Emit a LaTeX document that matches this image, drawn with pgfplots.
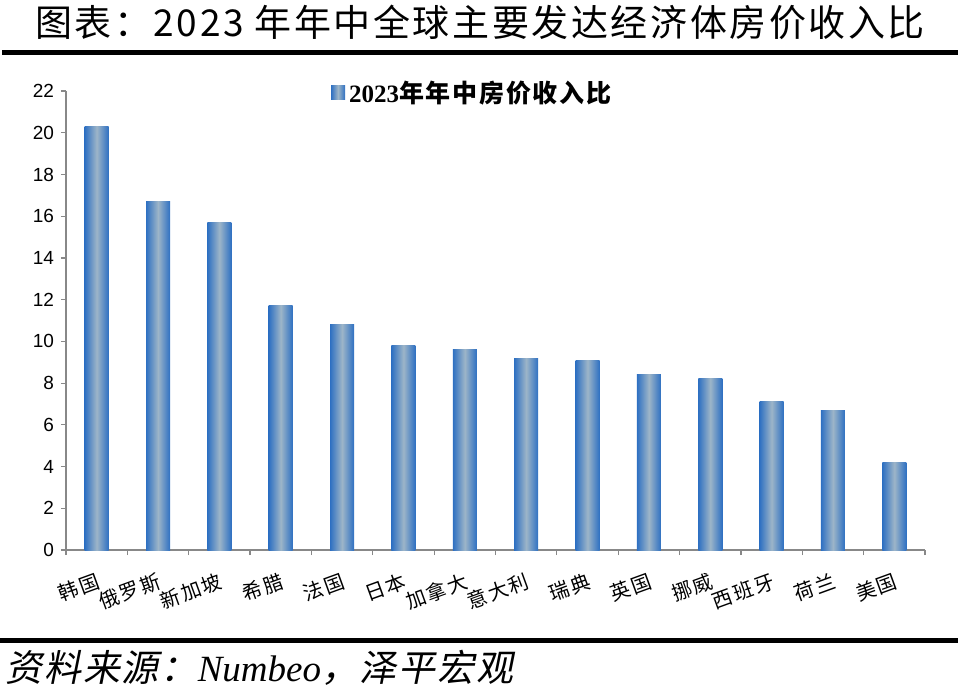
\documentclass[border=0pt]{standalone}
\usepackage{fontspec}
\usepackage{pgfplots}
\pgfplotsset{compat=1.18}
\setmainfont{Liberation Serif}
\setsansfont{Liberation Sans}
\newfontfamily\cjk{Noto Sans CJK SC}
\newfontfamily\cjkls{Noto Sans CJK SC}[LetterSpace=7]
\newfontfamily\cjklab{Noto Sans CJK SC}[LetterSpace=10]
\newfontfamily\cjkit{Noto Sans CJK SC}[FakeSlant=0.2, LetterSpace=5]
\definecolor{axgray}{HTML}{888888}
\definecolor{baredge}{HTML}{2E70C2}
\definecolor{barmid}{HTML}{9DB5C8}
\pgfplotsset{shbar/.style={ybar, bar width=12pt, bar shift=0pt, draw=none, left color=baredge, right color=baredge, middle color=barmid}}
\begin{document}
\begin{tikzpicture}
\useasboundingbox (0pt,0pt) rectangle (480pt,-346pt);
\draw[line width=2.5pt] (1pt,-26.25pt) -- (479pt,-26.25pt);
\draw[line width=2.5pt] (0pt,-320.25pt) -- (479pt,-320.25pt);
\node[font=\cjkls\fontsize{18.5}{20}\selectfont] at (240pt,-11pt) {图表：2023 年年中全球主要发达经济体房价收入比};
\node[anchor=west, font=\cjkit\fontsize{18.5}{20}\selectfont, inner sep=0pt] at (2.5pt,-334pt) {资料来源：{\itshape\rmfamily Numbeo}，泽平宏观};
\begin{axis}[
  at={(33pt,-275pt)}, anchor=south west,
  scale only axis, width=429.5pt, height=229.5pt,
  xmin=-0.5, xmax=13.5, ymin=0, ymax=22,
  axis x line*=bottom, axis y line*=left,
  axis line style={axgray, line width=0.6pt},
  every tick/.style={axgray, line width=0.6pt},
  tick align=outside, major tick length=2.5pt,
  ytick={0,2,...,22},
  yticklabel style={font=\sffamily\fontsize{9.5}{10}\selectfont, /pgf/number format/assume math mode=true},
  xtick={-0.5,0.5,...,13.5},
  x tick label as interval,
  xticklabels={韩国,俄罗斯,新加坡,希腊,法国,日本,加拿大,意大利,瑞典,英国,挪威,西班牙,荷兰,美国},
  xticklabel style={font=\cjklab\fontsize{10}{10}\selectfont, rotate=20, anchor=north east, yshift=-4pt},
  legend style={draw=none, fill=none, at={(0.474,0.996)}, anchor=center,
    font=\bfseries\cjkls\fontsize{12.5}{12.5}\selectfont, inner sep=1pt},
  legend image code/.code={\path[draw=none, left color=baredge, right color=baredge, middle color=barmid] (0pt,-3.5pt) rectangle (7pt,3.5pt);},
]
\addplot[shbar] coordinates {(0,20.3)};
\addlegendentry{{\rmfamily\bfseries 2023}年年中房价收入比}
\addplot[shbar] coordinates {(1,16.7)};
\addplot[shbar] coordinates {(2,15.7)};
\addplot[shbar] coordinates {(3,11.7)};
\addplot[shbar] coordinates {(4,10.8)};
\addplot[shbar] coordinates {(5,9.8)};
\addplot[shbar] coordinates {(6,9.6)};
\addplot[shbar] coordinates {(7,9.2)};
\addplot[shbar] coordinates {(8,9.1)};
\addplot[shbar] coordinates {(9,8.4)};
\addplot[shbar] coordinates {(10,8.2)};
\addplot[shbar] coordinates {(11,7.1)};
\addplot[shbar] coordinates {(12,6.7)};
\addplot[shbar] coordinates {(13,4.2)};
\end{axis}
\end{tikzpicture}
\end{document}
